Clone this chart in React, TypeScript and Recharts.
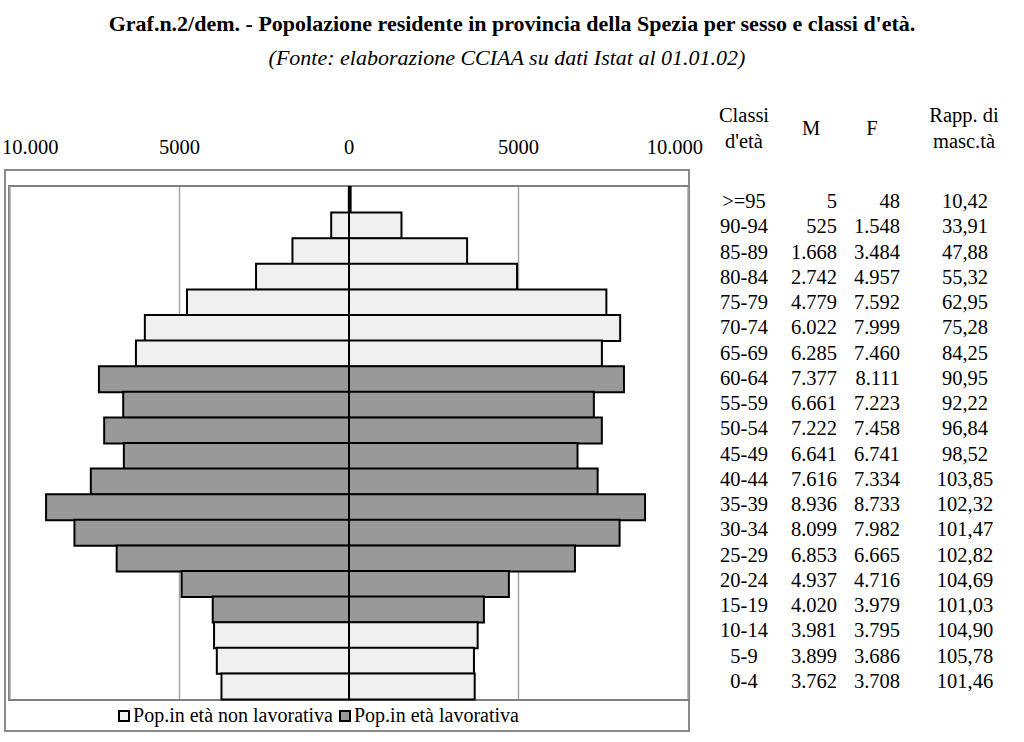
import { BarChart, Bar, XAxis, YAxis, CartesianGrid, Cell, Legend } from "recharts";

const ageClasses = [">=95", "90-94", "85-89", "80-84", "75-79", "70-74", "65-69", "60-64", "55-59", "50-54", "45-49", "40-44", "35-39", "30-34", "25-29", "20-24", "15-19", "10-14", "5-9", "0-4"];
const males = [5, 525, 1668, 2742, 4779, 6022, 6285, 7377, 6661, 7222, 6641, 7616, 8936, 8099, 6853, 4937, 4020, 3981, 3899, 3762];
const females = [48, 1548, 3484, 4957, 7592, 7999, 7460, 8111, 7223, 7458, 6741, 7334, 8733, 7982, 6665, 4716, 3979, 3795, 3686, 3708];
const mascRatios = ["10,42", "33,91", "47,88", "55,32", "62,95", "75,28", "84,25", "90,95", "92,22", "96,84", "98,52", "103,85", "102,32", "101,47", "102,82", "104,69", "101,03", "104,90", "105,78", "101,46"];
const workingAge = [false, false, false, false, false, false, false, true, true, true, true, true, true, true, true, true, true, false, false, false];
const xTicks = [-10000, -5000, 0, 5000, 10000];
const tickLabels = ["10.000", "5000", "0", "5000", "10.000"];

const FONT = '"Liberation Serif", "Times New Roman", serif';
const LIGHT = "#f0f0f0";
const DARK = "#999999";

const fmt = (n: number) => String(n).replace(/\B(?=(\d{3})+(?!\d))/g, ".");

const data = ageClasses.map((age, i) => ({
  age,
  m: -males[i],
  f: females[i],
  working: workingAge[i],
}));

function TopTick(props: any) {
  const { x, y, payload, index } = props;
  let anchor: "start" | "middle" | "end" = "middle";
  let tx = x;
  if (index === 0) {
    anchor = "start";
    tx = x - 8;
  } else if (index === xTicks.length - 1) {
    anchor = "end";
    tx = x + 15;
  }
  return (
    <text x={tx} y={y - 25} textAnchor={anchor} fontSize={20.5} fontFamily={FONT} fill="#000">
      {tickLabels[xTicks.indexOf(payload.value)]}
    </text>
  );
}

function LegendBox() {
  const item = (color: string, label: string) => (
    <span style={{ display: "inline-flex", alignItems: "center", marginRight: 6 }}>
      <span style={{ width: 8, height: 8, border: "2px solid #000", background: color, marginRight: 3 }} />
      {label}
    </span>
  );
  return (
    <div style={{ display: "flex", justifyContent: "center", fontFamily: FONT, fontSize: 20, color: "#000" }}>
      {item(LIGHT, "Pop.in età non lavorativa")}
      {item(DARK, "Pop.in età lavorativa")}
    </div>
  );
}

const txt: React.CSSProperties = { position: "absolute", fontFamily: FONT, fontSize: 20.5, color: "#000", whiteSpace: "nowrap", lineHeight: 1 };

export default function App() {
  const rowStep = 25.26;
  return (
    <div style={{ position: "absolute", left: 0, top: 0, width: 1024, height: 742, background: "#fff", fontFamily: FONT }}>
      <div style={{ ...txt, left: 0, width: 1024, top: 13, textAlign: "center", fontWeight: "bold", fontSize: 22 }}>
        Graf.n.2/dem. - Popolazione residente in provincia della Spezia per sesso e classi d'età.
      </div>
      <div style={{ ...txt, left: 0, width: 1014, top: 47, textAlign: "center", fontStyle: "italic", fontSize: 22 }}>
        (Fonte: elaborazione CCIAA su dati Istat al 01.01.02)
      </div>

      {/* outer chart frame and plot frame */}
      <div style={{ position: "absolute", left: 4, top: 169, width: 682, height: 559, border: "2px solid #8a8a8a" }} />
      <div style={{ position: "absolute", left: 8, top: 185, width: 678, height: 512, border: "2px solid #808080" }} />

      <div style={{ position: "absolute", left: 0, top: 0 }}>
        <BarChart
          width={712}
          height={742}
          data={data}
          layout="vertical"
          stackOffset="sign"
          barCategoryGap={0}
          margin={{ top: 157, right: 24, bottom: 19, left: 10 }}
        >
          <CartesianGrid horizontal={false} stroke="#a6a6a6" strokeWidth={1.5} />
          <XAxis
            type="number"
            orientation="top"
            domain={[-10000, 10000]}
            ticks={xTicks}
            axisLine={false}
            tickLine={false}
            tick={<TopTick />}
            height={30}
            interval={0}
            allowDataOverflow
          />
          <YAxis type="category" dataKey="age" hide />
          <Legend
            verticalAlign="bottom"
            content={() => <LegendBox />}
            wrapperStyle={{ position: "absolute", top: 704, left: 0, width: 643, height: 24 }}
          />
          <Bar dataKey="m" stackId="p" stroke="#000" strokeWidth={2} isAnimationActive={false}>
            {data.map((d, i) => (
              <Cell key={i} fill={d.working ? DARK : LIGHT} />
            ))}
          </Bar>
          <Bar dataKey="f" stackId="p" stroke="#000" strokeWidth={2} isAnimationActive={false}>
            {data.map((d, i) => (
              <Cell key={i} fill={d.working ? DARK : LIGHT} />
            ))}
          </Bar>
        </BarChart>
      </div>

      {/* table header */}
      <div style={{ ...txt, left: 694, width: 100, top: 105, textAlign: "center" }}>Classi</div>
      <div style={{ ...txt, left: 694, width: 100, top: 131, textAlign: "center" }}>d'età</div>
      <div style={{ ...txt, left: 781, width: 60, top: 118, textAlign: "center" }}>M</div>
      <div style={{ ...txt, left: 842, width: 60, top: 118, textAlign: "center" }}>F</div>
      <div style={{ ...txt, left: 914, width: 100, top: 105, textAlign: "center" }}>Rapp. di</div>
      <div style={{ ...txt, left: 914, width: 100, top: 131, textAlign: "center" }}>masc.tà</div>

      {/* table rows */}
      {ageClasses.map((age, i) => {
        const top = 191 + i * rowStep;
        return (
          <div key={age}>
            <div style={{ ...txt, left: 694, width: 100, top, textAlign: "center" }}>{age}</div>
            <div style={{ ...txt, left: 777, width: 60, top, textAlign: "right" }}>{fmt(males[i])}</div>
            <div style={{ ...txt, left: 840, width: 60, top, textAlign: "right" }}>{fmt(females[i])}</div>
            <div style={{ ...txt, left: 915, width: 100, top, textAlign: "center" }}>{mascRatios[i]}</div>
          </div>
        );
      })}
    </div>
  );
}
